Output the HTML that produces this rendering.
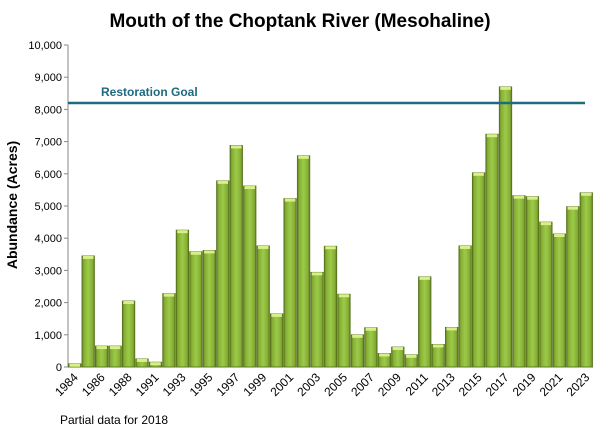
<!DOCTYPE html>
<html><head><meta charset="utf-8"><style>
body{margin:0;background:#fff;width:600px;height:435px;overflow:hidden;font-family:"Liberation Sans",sans-serif}
</style></head><body>
<svg id="chart" width="600" height="435" xmlns="http://www.w3.org/2000/svg">
<defs>
<linearGradient id="bg" x1="0" x2="1" y1="0" y2="0">
<stop offset="0" stop-color="#5f7d22"/><stop offset="0.15" stop-color="#86ad35"/>
<stop offset="0.5" stop-color="#9ccb48"/><stop offset="0.85" stop-color="#86ad35"/><stop offset="1" stop-color="#5f7d22"/>
</linearGradient>
</defs>
<text x="300" y="27" text-anchor="middle" font-size="19" font-weight="bold" fill="#000">Mouth of the Choptank River (Mesohaline)</text>
<text transform="translate(17,205) rotate(-90)" text-anchor="middle" font-size="14" font-weight="bold">Abundance (Acres)</text>
<text x="60" y="424" font-size="12">Partial data for 2018</text>
<g id="axes"></g><g id="bars"></g><g id="goal"></g>
</svg>
<script>
const years=["1984","1985","1986","1987","1988","1990","1991","1992","1993","1994","1995","1996","1997","1998","1999","2000","2001","2002","2003","2004","2005","2006","2007","2008","2009","2010","2011","2012","2013","2014","2015","2016","2017","2018","2019","2020","2021","2022","2023"];
const acres=[100,3450,650,650,2050,250,150,2280,4250,3580,3620,5780,6880,5620,3760,1650,5230,6560,2940,3750,2260,1000,1220,420,620,380,2800,700,1230,3760,6030,7230,8700,5320,5290,4500,4130,4980,5410];
const yTicks=[0,1000,2000,3000,4000,5000,6000,7000,8000,9000,10000];
const goalValue=8200;
const NS="http://www.w3.org/2000/svg";
const x0=68,x1=593,y0=367,yTop=45,maxV=10000;
const bw=(x1-x0)/years.length;
const yS=v=>y0-(v/maxV)*(y0-yTop);
const xS=i=>x0+i*bw;
function mk(t,a,p){const e=document.createElementNS(NS,t);for(const k in a)e.setAttribute(k,a[k]);p.appendChild(e);return e;}
const ax=document.getElementById('axes');
const yl=mk('line',{x1:x0,x2:x0,y1:yTop,y2:y0,stroke:'#888'},ax);


const xl=mk('line',{x1:x0,x2:x1,y1:y0,y2:y0,stroke:'#888'},ax);


yTicks.forEach(v=>{
 const tk=mk('line',{x1:x0-4,x2:x0,y1:yS(v),y2:yS(v),stroke:'#888'},ax);
 
 
 const t=mk('text',{x:x0-6,y:yS(v)+4,'text-anchor':'end','font-size':11},ax);
 t.textContent=v.toLocaleString('en-US');
 
 
});
const bg=document.getElementById('bars');
acres.forEach((v,i)=>{
 const x=xS(i),y=yS(v),h=y0-y;
 const r=mk('rect',{x:x+0.5,y:y,width:bw-1,height:h,fill:'url(#bg)',stroke:'#55701c','stroke-width':0.8},bg);
 
 
 const c=mk('rect',{x:x+1.5,y:y,width:bw-3,height:Math.min(3,h),fill:'#d9f08a'},bg);
 
 
 if(i%2===0){
  const cx=x+bw/2+4,cy=y0+11;
  const t=mk('text',{x:cx,y:cy,'text-anchor':'end','font-size':12,transform:`rotate(-45 ${cx} ${cy})`},ax);
  t.textContent=years[i];
  
  
 }
});
const g=document.getElementById('goal');
const gl=mk('line',{x1:x0,x2:585,y1:yS(goalValue),y2:yS(goalValue),stroke:'#1e6a7e','stroke-width':2.5},g);


const gt=mk('text',{x:101,y:yS(goalValue)-7,'font-size':12,'font-weight':'bold',fill:'#1e6a7e'},g);
gt.textContent='Restoration Goal';


</script>
</body></html>
